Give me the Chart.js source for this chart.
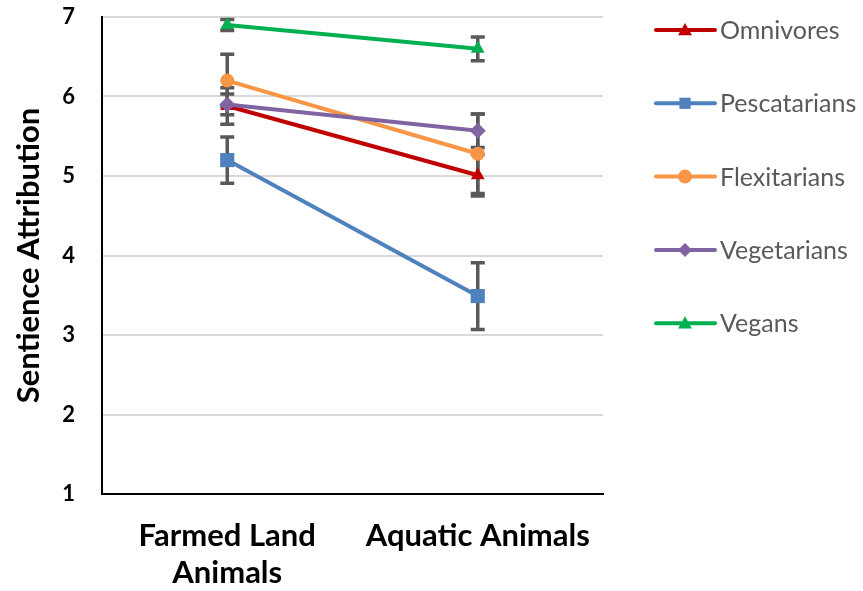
<!DOCTYPE html>
<html>
<head>
<meta charset="utf-8">
<script src="https://cdn.jsdelivr.net/npm/chart.js@4/dist/chart.umd.min.js"></script>
<style>
  html, body { margin: 0; padding: 0; background: #fff; }
  #wrap { width: 863px; height: 591px; position: relative; }
</style>
</head>
<body>
<div id="wrap"><canvas id="chart"></canvas></div>
<script>
const categories = [['Farmed Land', 'Animals'], 'Aquatic Animals'];
const yTicks = [1, 2, 3, 4, 5, 6, 7];

const seriesNames = ['Omnivores', 'Pescatarians', 'Flexitarians', 'Vegetarians', 'Vegans'];
const omnivores = [5.88, 5.01];
const pescatarians = [5.20, 3.49];
const flexitarians = [6.20, 5.28];
const vegetarians = [5.90, 5.57];
const vegans = [6.90, 6.60];

// +/- error per category
const omnivoresErr = [0.23, 0.26];
const pescatariansErr = [0.29, 0.42];
const flexitariansErr = [0.33, 0.50];
const vegetariansErr = [0.13, 0.21];
const vegansErr = [0.07, 0.15];

const colors = ['#C00000', '#4F81BD', '#F79646', '#8064A2', '#00B050'];
const markers = ['triangle', 'rect', 'circle', 'rectRot', 'triangle'];
const markerSizes = [8, 10, 7, 8, 8];
const values = [omnivores, pescatarians, flexitarians, vegetarians, vegans];
const errors = [omnivoresErr, pescatariansErr, flexitariansErr, vegetariansErr, vegansErr];

const FONT = 'Lato, "Open Sans", sans-serif';

function marker(ctx, style, x, y, r, color) {
    ctx.save();
    ctx.fillStyle = color;
    ctx.beginPath();
    if (style === 'triangle') {
        ctx.moveTo(x, y - r);
        ctx.lineTo(x + r, y + r * 0.75);
        ctx.lineTo(x - r, y + r * 0.75);
    } else if (style === 'rect') {
        ctx.rect(x - r * 0.8, y - r * 0.8, r * 1.6, r * 1.6);
    } else if (style === 'rectRot') {
        ctx.moveTo(x, y - r);
        ctx.lineTo(x + r, y);
        ctx.lineTo(x, y + r);
        ctx.lineTo(x - r, y);
    } else {
        ctx.arc(x, y, r, 0, Math.PI * 2);
    }
    ctx.closePath();
    ctx.fill();
    ctx.restore();
}

// error bars, drawn under the lines
const errorBars = {
    id: 'errorBars',
    beforeDatasetsDraw(chart) {
        const ctx = chart.ctx;
        const x = chart.scales.x, y = chart.scales.y;
        ctx.save();
        ctx.strokeStyle = '#595959';
        ctx.lineWidth = 3.5;
        values.forEach((vals, i) => {
            vals.forEach((v, j) => {
                const px = x.getPixelForValue(j);
                const top = y.getPixelForValue(v + errors[i][j]);
                const bot = y.getPixelForValue(v - errors[i][j]);
                ctx.beginPath();
                ctx.moveTo(px, top); ctx.lineTo(px, bot);
                ctx.moveTo(px - 7, top); ctx.lineTo(px + 7, top);
                ctx.moveTo(px - 7, bot); ctx.lineTo(px + 7, bot);
                ctx.stroke();
            });
        });
        ctx.restore();
    }
};

// legend on the right, Excel style
const sideLegend = {
    id: 'sideLegend',
    afterDraw(chart) {
        const ctx = chart.ctx;
        ctx.save();
        ctx.font = '25px ' + FONT;
        ctx.fillStyle = '#595959';
        ctx.textBaseline = 'middle';
        seriesNames.forEach((name, i) => {
            const yy = 30 + i * 73.3;
            ctx.strokeStyle = colors[i];
            ctx.lineWidth = 4;
            ctx.lineCap = 'round';
            ctx.beginPath();
            ctx.moveTo(656, yy); ctx.lineTo(715, yy);
            ctx.stroke();
            marker(ctx, markers[i], 685, yy, 7, colors[i]);
            ctx.fillText(name, 720, yy + 1);
        });
        ctx.restore();
    }
};

new Chart(document.getElementById('chart'), {
    type: 'line',
    data: {
        labels: categories,
        datasets: seriesNames.map((name, i) => ({
            label: name,
            data: values[i],
            borderColor: colors[i],
            backgroundColor: colors[i],
            borderWidth: 4,
            pointStyle: markers[i],
            pointRadius: markerSizes[i],
            pointBorderWidth: 0,
            pointHoverRadius: markerSizes[i],
            order: seriesNames.length - i
        }))
    },
    options: {
        responsive: true,
        maintainAspectRatio: false,
        animation: false,
        layout: { padding: { left: 10, right: 260, top: 0, bottom: 0 } },
        plugins: {
            legend: { display: false },
            tooltip: { enabled: false }
        },
        scales: {
            x: {
                offset: true,
                afterFit(scale) { scale.height = 97; },
                grid: { display: false, drawTicks: false },
                border: { color: '#000', width: 2 },
                ticks: {
                    color: '#000',
                    font: { family: FONT, size: 31, weight: 'bold' },
                    padding: 23,
                    maxRotation: 0,
                    autoSkip: false
                }
            },
            y: {
                min: 1,
                max: 7,
                afterBuildTicks(scale) {
                    scale.ticks = yTicks.map(v => ({ value: v }));
                },
                afterFit(scale) {
                    scale.width = 92;
                    scale.paddingTop = 17;
                    scale.paddingBottom = 0;
                },
                grid: { color: '#D9D9D9', lineWidth: 2, drawTicks: false },
                border: { color: '#000', width: 2 },
                ticks: {
                    color: '#000',
                    font: { family: FONT, size: 22, weight: 'bold' },
                    padding: 27
                },
                title: {
                    display: true,
                    text: 'Sentience Attribution',
                    color: '#000',
                    font: { family: FONT, size: 31, weight: 'bold' },
                    padding: 0
                }
            }
        }
    },
    plugins: [errorBars, sideLegend]
});
</script>
</body>
</html>
